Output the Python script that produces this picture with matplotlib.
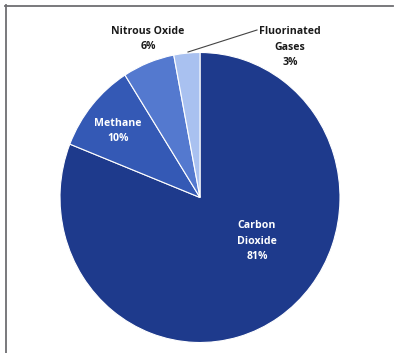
import matplotlib
matplotlib.use("Agg")
import matplotlib.pyplot as plt

categories = ["Carbon\nDioxide", "Methane", "Nitrous Oxide", "Fluorinated\nGases"]
values = [81, 10, 6, 3]
pct_labels = ["81%", "10%", "6%", "3%"]
colors = ["#1e3a8c", "#3459b5", "#5479cf", "#a9c1f0"]

W, H = 394, 353
fig = plt.figure(figsize=(W / 100, H / 100), dpi=100)
ax = fig.add_axes([0, 0, 1, 1])
cx, cy = 200, 197.5
rx, ry = 140, 145
ax.axis("off")

ax.pie(values, colors=colors, startangle=90, counterclock=False,
       radius=1, center=(0, 0),
       wedgeprops=dict(edgecolor="white", linewidth=0.8))
ax.set_xlim(-cx / rx, (W - cx) / rx)
ax.set_ylim(-(H - cy) / ry, cy / ry)
ax.set_aspect("auto")

def fx(px):
    return px / W

def fy(py):
    return 1 - py / H

font = dict(family=["Open Sans", "DejaVu Sans"], fontweight="bold", fontsize=7.6)

label_pos = [(257, 241, "white"), (118, 131, "white"), (148, 39, "#1a1a1a"), (290, 47, "#1a1a1a")]
for cat, pct, (px, py, col) in zip(categories, pct_labels, label_pos):
    fig.text(fx(px), fy(py), cat + "\n" + pct, ha="center", va="center",
             color=col, linespacing=1.55, **font)

# leader line for Fluorinated Gases
fig.add_artist(plt.Line2D([fx(188), fx(257)], [fy(52), fy(30)],
                          color="#444444", linewidth=0.8))

# partial frame (top and left)
fig.add_artist(plt.Line2D([fx(5), fx(393)], [fy(5.5), fy(5.5)], color="#6e6e72", linewidth=1.3))
fig.add_artist(plt.Line2D([fx(5.5), fx(5.5)], [fy(5), fy(353)], color="#6e6e72", linewidth=1.3))

fig.savefig("out.png", dpi=100)
